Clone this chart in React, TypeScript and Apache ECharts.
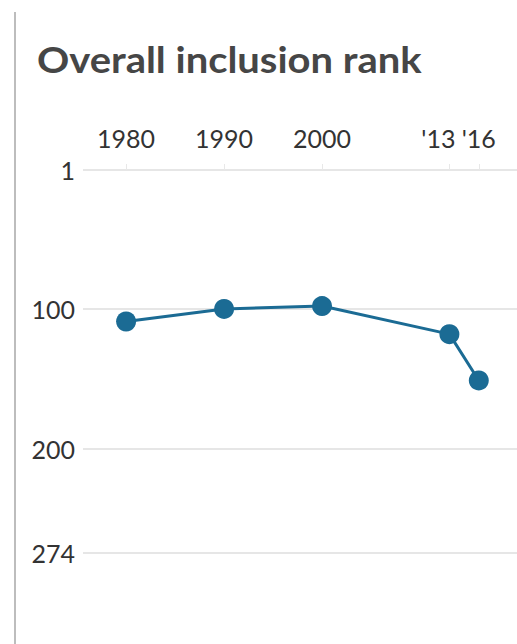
import React, { useEffect, useRef } from "react";
import * as echarts from "echarts";

const years = [1980, 1990, 2000, 2013, 2016];
const yearLabels = ["1980", "1990", "2000", "'13", "'16"];
const ranks = [109, 100, 98, 118, 151];
const rankTicks = [1, 100, 200, 274];
const title = "Overall inclusion rank";

export default function App() {
  const ref = useRef<HTMLDivElement>(null);
  useEffect(() => {
    if (!ref.current) return;
    const chart = echarts.init(ref.current, null, { renderer: "svg" });
    const labelFont = { fontFamily: "Lato", fontSize: 25, color: "#333333", fontWeight: "normal" };
    chart.setOption({
      animation: false,
      backgroundColor: "#ffffff",
      graphic: [
        {
          type: "line",
          shape: { x1: 15, y1: 12, x2: 15, y2: 644 },
          style: { stroke: "#bdbdbd", lineWidth: 2 },
        },
        {
          type: "text",
          x: 37,
          y: 59,
          scaleX: 1.11,
          style: {
            text: title,
            fontFamily: "Lato",
            fontWeight: "bold",
            fontSize: 36,
            fill: "#464646",
            verticalAlign: "middle",
            align: "left",
          },
        },
      ],
      grid: { left: 83, right: 0, top: 170, bottom: 91 },
      xAxis: {
        type: "value",
        position: "top",
        min: 1975.6,
        max: 2019.9,
        axisLine: { show: false },
        axisTick: {
          show: true,
          customValues: years,
          length: 6,
          lineStyle: { color: "#e8e8e8", width: 1 },
        },
        splitLine: { show: false },
        axisLabel: {
          customValues: years,
          hideOverlap: false,
          interval: 0,
          margin: 20,
          ...labelFont,
          formatter: (v: number) => {
            const i = years.indexOf(Math.round(v));
            if (i < 0) return "";
            return years[i] === 2013 ? "{s|" + yearLabels[i] + "}" : yearLabels[i];
          },
          rich: {
            s: { ...labelFont, padding: [0, 22, 0, 0] },
          },
        },
      },
      yAxis: {
        type: "value",
        inverse: true,
        min: 1,
        max: 274,
        axisLine: { show: false },
        axisTick: { show: false, customValues: rankTicks },
        axisLabel: {
          customValues: rankTicks,
          margin: 8,
          ...labelFont,
        },
        splitLine: { show: true, lineStyle: { color: "#e6e6e6", width: 2 } },
      },
      series: [
        {
          type: "line",
          data: years.map((y, i) => [y, ranks[i]]),
          symbol: "circle",
          symbolSize: 20,
          lineStyle: { color: "#1b6b94", width: 3 },
          itemStyle: { color: "#1b6b94" },
        },
      ],
    });
    return () => chart.dispose();
  }, []);
  return (
    <div
      ref={ref}
      style={{ position: "fixed", left: 0, top: 0, width: 517, height: 644 }}
    />
  );
}
